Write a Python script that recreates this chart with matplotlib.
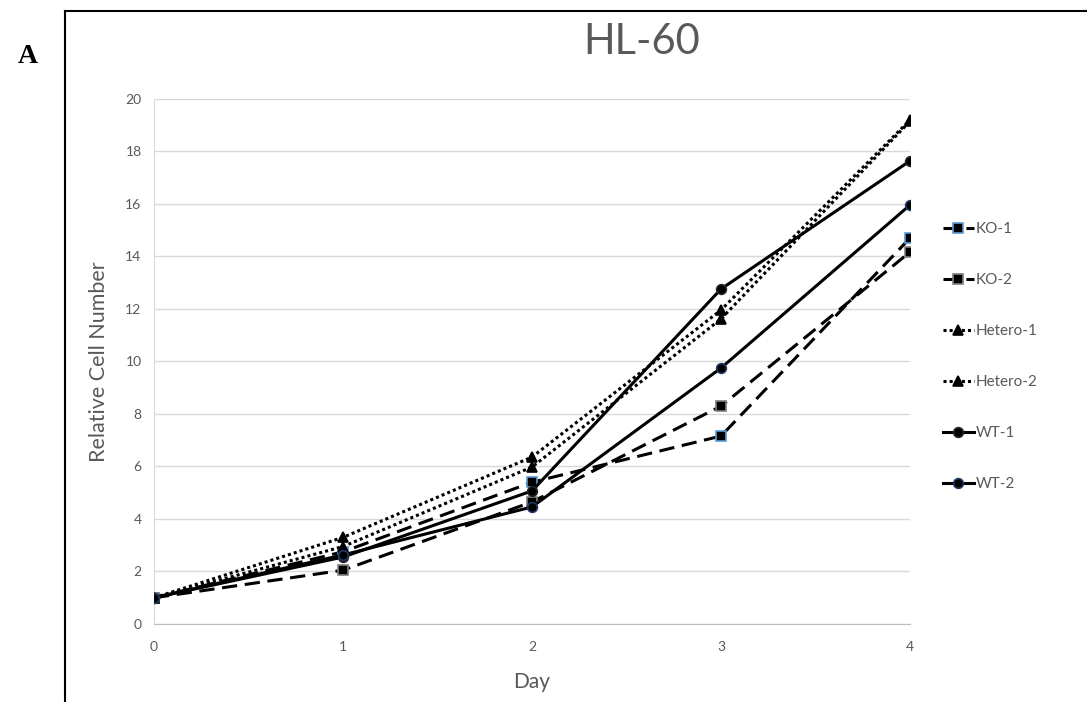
import matplotlib.pyplot as plt
from matplotlib.lines import Line2D

days = [0, 1, 2, 3, 4]
ko1 = [1.0, 2.75, 5.4, 7.16, 14.7]
ko2 = [1.0, 2.05, 4.65, 8.3, 14.17]
hetero1 = [1.0, 3.3, 6.36, 11.96, 19.2]
hetero2 = [1.0, 2.95, 5.98, 11.62, 19.15]
wt1 = [1.0, 2.55, 5.07, 12.76, 17.64]
wt2 = [1.0, 2.63, 4.46, 9.75, 15.96]
labels = ['KO-1', 'KO-2', 'Hetero-1', 'Hetero-2', 'WT-1', 'WT-2']

plt.rcParams['font.family'] = ['Lato', 'DejaVu Sans']
grey = '#595959'

fig = plt.figure(figsize=(10.87, 7.02), dpi=100)
ax = fig.add_axes([0.1417, 0.1111, 0.6955, 0.748])

# Stil je Serie: Linie, Marker, Markerrand
styles = [
    dict(ls=(0, (5, 2.5)), marker='s', mec='#5B9BD5'),
    dict(ls=(0, (5, 2.5)), marker='s', mec='#7F7F7F'),
    dict(ls=(0, (1, 1)), marker='^', mec='black'),
    dict(ls=(0, (1, 1)), marker='^', mec='black'),
    dict(ls='-', marker='o', mec='#262626'),
    dict(ls='-', marker='o', mec='#203864'),
]
series = [ko1, ko2, hetero1, hetero2, wt1, wt2]

for vals, lab, st in zip(series, labels, styles):
    ax.plot(days, vals, color='black', lw=2.2, linestyle=st['ls'],
            marker=st['marker'], ms=7, mfc='black', mec=st['mec'], mew=1.2,
            label=lab, zorder=3)

ax.set_xlim(0, 4)
ax.set_ylim(0, 20)
ax.set_xticks(days)
ax.set_yticks(range(0, 21, 2))
ax.grid(axis='y', color='#D9D9D9', lw=1)
ax.set_axisbelow(True)
for s in ['top', 'right']:
    ax.spines[s].set_visible(False)
ax.spines['left'].set_color('#D9D9D9')
ax.spines['bottom'].set_color('#BFBFBF')
ax.tick_params(length=0, colors=grey, labelsize=10)
ax.tick_params(axis='x', pad=12)
ax.tick_params(axis='y', pad=9)

ax.set_xlabel('Day', color=grey, fontsize=15, labelpad=14)
ax.set_ylabel('Relative Cell Number', color=grey, fontsize=15.5, labelpad=12)
fig.text(0.59, 0.94, 'HL-60', ha='center', va='center', fontsize=30, color=grey)

leg = fig.legend(loc='upper left', bbox_to_anchor=(0.862, 0.692), frameon=False,
                 fontsize=11, handlelength=2.0, labelspacing=2.42,
                 handletextpad=0.15, borderaxespad=0)
for t in leg.get_texts():
    t.set_color(grey)

# Rahmen und Panel-Buchstabe
fig.add_artist(Line2D([0.0598, 0.0598], [0.0, 0.984], color='black', lw=1.5))
fig.add_artist(Line2D([0.0598, 1.0], [0.984, 0.984], color='black', lw=1.5))
fig.text(0.026, 0.92, 'A', family='Liberation Serif', weight='bold', fontsize=20,
         ha='center', va='center')

plt.savefig('out.png')
